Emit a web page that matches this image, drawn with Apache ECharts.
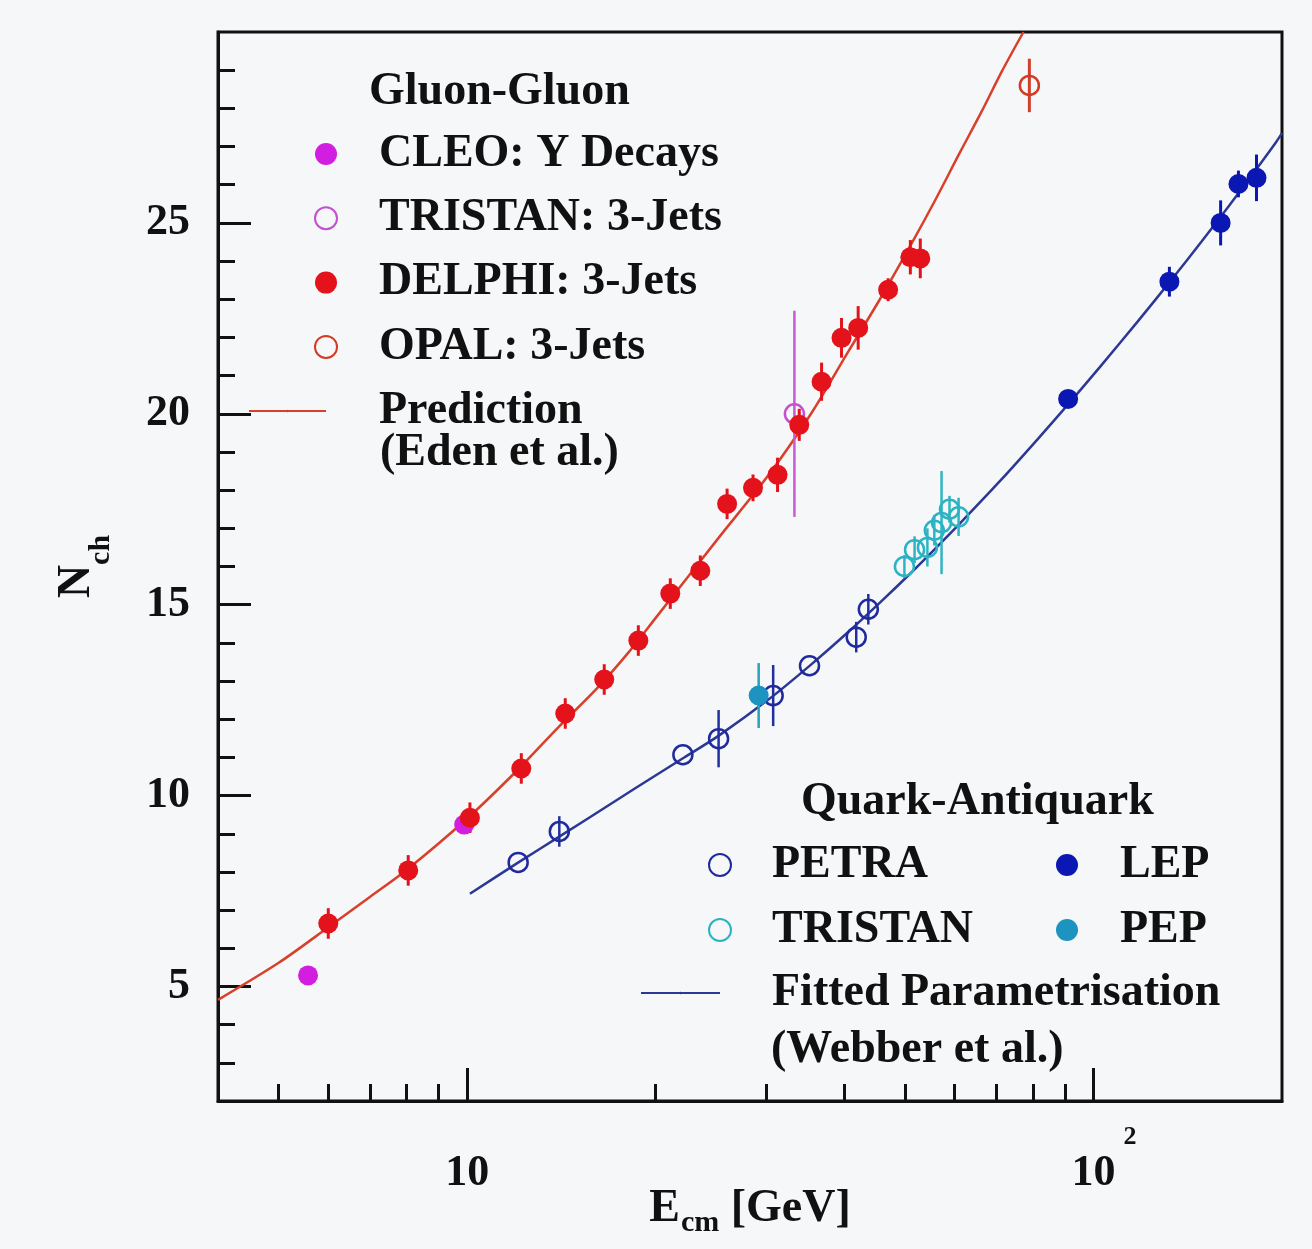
<!DOCTYPE html>
<html>
<head>
<meta charset="utf-8">
<title>Charged multiplicity in gluon and quark jets</title>
<script src="https://cdn.jsdelivr.net/npm/echarts@6.0.0/dist/echarts.min.js"></script>
<style>
  html, body { margin: 0; padding: 0; background: #f6f7f9; }
  #chart { width: 1312px; height: 1249px; }
</style>
</head>
<body>
<div id="chart"></div>
<script>
// values: [E_cm (GeV), N_ch, error]
const cleo = [[5.57, 5.29], [9.89, 9.24]];
const tristanGG = [[33.3, 20.0, 2.7]];
const delphi = [
  [6.0, 6.65, 0.4], [8.05, 8.04, 0.4], [10.1, 9.42, 0.4], [12.2, 10.71, 0.4],
  [14.34, 12.15, 0.4], [16.55, 13.04, 0.4], [18.76, 14.06, 0.4], [21.1, 15.29, 0.4],
  [23.56, 15.89, 0.4], [26.0, 17.64, 0.4], [28.6, 18.06, 0.35], [31.3, 18.4, 0.45],
  [33.9, 19.71, 0.42], [36.8, 20.84, 0.5], [39.6, 21.99, 0.52], [42.1, 22.25, 0.57],
  [47.0, 23.25, 0.3], [51.0, 24.1, 0.45], [52.9, 24.07, 0.52]
];
const opal = [[79.0, 28.6, 0.7]];
const predE = [4, 5, 6, 7, 8, 10, 12, 14, 16.1, 18.1, 20.1, 25.2, 30.3, 35.4, 40.5, 45.6, 50.8, 55.9, 61, 66.2, 71.3, 77.3];
const predN = [4.65, 5.62, 6.55, 7.35, 8.05, 9.4, 10.65, 11.8, 12.8, 13.75, 14.7, 16.75, 18.4, 20.0, 21.6, 23.0, 24.35, 25.6, 26.8, 27.9, 28.95, 30.0];

const petra = [
  [12.06, 8.25, 0], [14.03, 9.06, 0.4], [22.1, 11.07, 0], [25.2, 11.49, 0.75],
  [30.8, 12.62, 0.8], [35.2, 13.4, 0], [41.8, 14.15, 0.4], [43.7, 14.88, 0.4]
];
const tristanQQ = [
  [49.9, 16.0, 0.3], [51.8, 16.44, 0.35], [54.3, 16.5, 0.5], [55.7, 16.95, 0.4],
  [57.2, 17.15, 1.35], [58.9, 17.5, 0.35], [60.9, 17.3, 0.5]
];
const pep = [[29.2, 12.62, 0.85]];
const lep = [[91.1, 20.39, 0], [132.2, 23.46, 0.39], [159.6, 25.0, 0.59], [170.4, 26.02, 0.35], [182.1, 26.18, 0.61]];
const fitE = [10.1, 12.02, 14.05, 17.09, 20.13, 22.17, 25.22, 30.3, 35.4, 40.5, 45.65, 50.8, 55.9, 61.05, 71.3, 81.6, 91.9, 102.2, 117.7, 133.2, 148.8, 164.3, 179.8, 195.4, 200];
const fitN = [7.43, 8.23, 8.93, 9.82, 10.56, 10.99, 11.57, 12.52, 13.43, 14.27, 15.06, 15.79, 16.47, 17.11, 18.28, 19.35, 20.32, 21.21, 22.42, 23.51, 24.51, 25.43, 26.29, 27.1, 27.35];

// axis ticks
const xMinorTicks = [5, 6, 7, 8, 9, 20, 30, 40, 50, 60, 70, 80, 90];
const xMajorTicks = [10, 100];
const yMinorTicks = [3, 4, 6, 7, 8, 9, 11, 12, 13, 14, 16, 17, 18, 19, 21, 22, 23, 24, 26, 27, 28, 29];
const yMajorTicks = [5, 10, 15, 20, 25];

const FONT = '"Liberation Serif", "Times New Roman", serif';
const INK = '#111';
const BG = '#f6f7f9';

const tickLine = { color: INK, width: 3 };
const txt = { fontFamily: FONT, fontWeight: 'bold', color: INK };

function pairs(xs, ys) {
  return xs.map((x, i) => [x, ys[i]]);
}

function dots(name, pts, color, hollow) {
  return {
    type: 'scatter', name: name, z: 4,
    symbol: 'circle', symbolSize: hollow ? 19 : 20,
    data: pts.map(p => [p[0], p[1]]),
    itemStyle: hollow
      ? { color: 'rgba(0,0,0,0)', borderColor: color, borderWidth: 2.5, opacity: 1 }
      : { color: color, opacity: 1 },
    emphasis: { disabled: true }
  };
}

function errorBars(pts, color, width) {
  return {
    type: 'custom', z: 3, silent: true,
    data: pts.filter(p => p[2] > 0),
    encode: { x: 0, y: 1 },
    renderItem: function (params, api) {
      const x = api.value(0), y = api.value(1), e = api.value(2);
      const lo = api.coord([x, y - e]);
      const hi = api.coord([x, y + e]);
      return {
        type: 'line',
        shape: { x1: lo[0], y1: lo[1], x2: hi[0], y2: hi[1] },
        style: { stroke: color, lineWidth: width }
      };
    }
  };
}

function legendBlock(names, left, top, pad, iconW, iconH, gap) {
  return {
    data: names, orient: 'vertical', left: left, top: top, padding: 0,
    itemWidth: iconW, itemHeight: iconH, itemGap: gap,
    selectedMode: false,
    textStyle: Object.assign({ fontSize: 46, lineHeight: 46, padding: [0, 0, 0, pad] }, txt)
  };
}

function heading(text, left, top) {
  return {
    text: text, left: left, top: top, padding: 0,
    textStyle: Object.assign({ fontSize: 46, lineHeight: 46 }, txt)
  };
}

const chart = echarts.init(document.getElementById('chart'));

const option = {
  backgroundColor: BG,
  animation: false,
  title: [
    heading('Gluon-Gluon', 369, 69),
    heading('(Eden et al.)', 380, 430),
    heading('Quark-Antiquark', 801, 779),
    heading('(Webber et al.)', 771, 1027)
  ],
  legend: [
    legendBlock(['CLEO: Υ Decays', 'TRISTAN: 3-Jets', 'DELPHI: 3-Jets', 'OPAL: 3-Jets'], 314, 131, 37, 22, 22, 18.3),
    legendBlock(['Prediction'], 248, 388, 48, 77, 3, 18),
    legendBlock(['PETRA', 'TRISTAN'], 708, 842, 36, 22, 22, 19),
    legendBlock(['LEP', 'PEP'], 1056, 842, 37, 22, 22, 19),
    legendBlock(['Fitted Parametrisation'], 640, 970, 47, 79, 3, 18)
  ],
  grid: {
    left: 218, right: 30, top: 32, bottom: 148,
    show: true, borderColor: INK, borderWidth: 3, backgroundColor: 'transparent',
    outerBoundsMode: 'none'
  },
  xAxis: [{
    type: 'log', logBase: 10, min: 4, max: 200,
    axisLine: { show: true, onZero: false, lineStyle: tickLine },
    axisTick: { show: true, inside: true, length: 17, customValues: xMinorTicks, lineStyle: tickLine },
    axisLabel: { show: false },
    splitLine: { show: false },
    name: '{e|E}{s|cm}{t| [GeV]}',
    nameLocation: 'middle', nameGap: 85, nameMoveOverlap: false,
    nameTextStyle: {
      rich: {
        e: Object.assign({ fontSize: 46, lineHeight: 46, verticalAlign: 'top' }, txt),
        s: Object.assign({ fontSize: 30, lineHeight: 30, verticalAlign: 'top', padding: [22, 0, 0, 1] }, txt),
        t: Object.assign({ fontSize: 46, lineHeight: 46, verticalAlign: 'top' }, txt)
      }
    }
  }, {
    type: 'log', logBase: 10, min: 4, max: 200, position: 'bottom',
    axisLine: { show: false },
    axisTick: { show: true, inside: true, length: 33, customValues: xMajorTicks, lineStyle: tickLine },
    axisLabel: {
      customValues: xMajorTicks, margin: 23,
      formatter: function (v) {
        return Math.round(Math.log10(v)) === 2 ? '{p|}{b|10}{sup|2}' : '{b|10}';
      },
      rich: {
        p: { width: 21 },
        b: Object.assign({ fontSize: 44, lineHeight: 44, verticalAlign: 'top', padding: [28, 0, 0, 0] }, txt),
        sup: Object.assign({ fontSize: 26, lineHeight: 26, verticalAlign: 'top', padding: [0, 0, 0, 8] }, txt)
      }
    },
    splitLine: { show: false }
  }],
  yAxis: [{
    type: 'value', min: 2, max: 30,
    axisLine: { show: true, onZero: false, lineStyle: tickLine },
    axisTick: { show: true, inside: true, length: 17, customValues: yMinorTicks, lineStyle: tickLine },
    axisLabel: Object.assign({ customValues: yMajorTicks, margin: 28, fontSize: 44, padding: [6, 0, 0, 0] }, txt),
    splitLine: { show: false },
    name: '{n|N}{s|ch}',
    nameLocation: 'middle', nameRotate: 90, nameGap: 118, nameMoveOverlap: false,
    nameTextStyle: {
      rich: {
        n: Object.assign({ fontSize: 46, lineHeight: 46, verticalAlign: 'top' }, txt),
        s: Object.assign({ fontSize: 30, lineHeight: 30, verticalAlign: 'top', padding: [32, 0, 0, 0] }, txt)
      }
    }
  }, {
    type: 'value', min: 2, max: 30, position: 'left',
    axisLine: { show: false },
    axisTick: { show: true, inside: true, length: 33, customValues: yMajorTicks, lineStyle: tickLine },
    axisLabel: { show: false },
    splitLine: { show: false }
  }],
  series: [
    {
      type: 'line', name: 'Prediction', z: 2,
      data: pairs(predE, predN), symbol: 'none', smooth: 0.3,
      lineStyle: { color: '#d9402b', width: 2.5 }, itemStyle: { color: '#d9402b' }
    },
    {
      type: 'line', name: 'Fitted Parametrisation', z: 2,
      data: pairs(fitE, fitN), symbol: 'none', smooth: 0.3,
      lineStyle: { color: '#2b3894', width: 2.5 }, itemStyle: { color: '#2b3894' }
    },
    errorBars(delphi, '#e3121b', 3),
    errorBars(tristanGG, '#c85ad4', 2.5),
    errorBars(opal, '#d0402a', 3),
    errorBars(petra, '#2030a0', 2.5),
    errorBars(tristanQQ, '#2fb4c4', 2.5),
    errorBars(pep, '#2a9fb8', 2.5),
    errorBars(lep, '#0a18b0', 3),
    dots('CLEO: Υ Decays', cleo, '#d21ee0', false),
    dots('TRISTAN: 3-Jets', tristanGG, '#c450d0', true),
    dots('DELPHI: 3-Jets', delphi, '#e3121b', false),
    dots('OPAL: 3-Jets', opal, '#d43a22', true),
    dots('PETRA', petra, '#1f2a9c', true),
    dots('TRISTAN', tristanQQ, '#2bb3c3', true),
    dots('LEP', lep, '#0b17b3', false),
    dots('PEP', pep, '#1d93bf', false)
  ]
};

chart.setOption(option);
window.addEventListener('resize', function () {
  chart.resize();
});
</script>
</body>
</html>
